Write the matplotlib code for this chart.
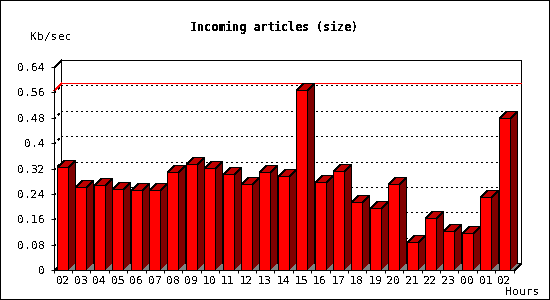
import numpy as np
import matplotlib
matplotlib.use("Agg")
import matplotlib.pyplot as plt
from matplotlib.patches import Polygon, Rectangle

hours = ["02", "03", "04", "05", "06", "07", "08", "09", "10", "11", "12", "13", "14",
         "15", "16", "17", "18", "19", "20", "21", "22", "23", "00", "01", "02"]
sizes = [0.325, 0.261, 0.268, 0.255, 0.251, 0.251, 0.309, 0.334, 0.322, 0.303, 0.272, 0.31, 0.297,
         0.566, 0.278, 0.313, 0.214, 0.195, 0.271, 0.0875, 0.163, 0.122, 0.116, 0.23, 0.479]
y_ticks = [0, 0.08, 0.16, 0.24, 0.32, 0.4, 0.48, 0.56, 0.64]
y_labels = ["0", "0.08", "0.16", "0.24", "0.32", "0.4", "0.48", "0.56", "0.64"]

plt.rcParams["font.family"] = "DejaVu Sans Mono"
plt.rcParams["text.antialiased"] = False
plt.rcParams["text.hinting"] = "force_autohint"
plt.rcParams["text.hinting_factor"] = 1

W, H = 550, 300
left, right, top, bottom = 53.5, 513.5, 67, 270
depth = 7
lw = 0.72  # one pixel

fig = plt.figure(figsize=(W / 100, H / 100), dpi=100)
ax = fig.add_axes([left / W, 1 - bottom / H, (right - left) / W, (bottom - top) / H])
ax.set_xlim(0, len(hours))
ax.set_ylim(0, 0.64)
ax.patch.set_visible(False)

dx = depth * len(hours) / (right - left)
dy = depth * 0.64 / (bottom - top)

for s in ["top", "right"]:
    ax.spines[s].set_visible(False)
for s in ["left", "bottom"]:
    ax.spines[s].set_linewidth(lw)
    ax.spines[s].set_antialiased(False)
    ax.spines[s].set_zorder(6)


def poly(pts, fc, ec="black", z=3):
    ax.add_patch(Polygon(pts, closed=True, fc=fc, ec=ec, lw=lw, aa=False, snap=True, clip_on=False, zorder=z))


def line(xs, ys, color="black", ls="-", z=2):
    ax.plot(xs, ys, color=color, lw=lw, ls=ls, aa=False, snap=True, clip_on=False, zorder=z)


n = len(hours)
# floor and back wall
poly([(0, 0), (n, 0), (n + dx, dy), (dx, dy)], "#808080", z=1)
poly([(dx, dy), (n + dx, dy), (n + dx, 0.64 + dy), (dx, 0.64 + dy)], "white", z=1)
line([0, dx], [0.64, 0.64 + dy])

for t in y_ticks[1:-1]:
    line([dx, n + dx], [t + dy, t + dy], ls=(0, (2, 3)))
    line([0, dx], [t, t + dy], ls=(0, (2, 3)))

# max line
peak = max(sizes)
line([0, dx], [peak, peak + dy], color="red", z=2.5)
line([dx, n + dx], [peak + dy, peak + dy], color="#ff0000", z=2.5)

# bars
x = np.arange(n) + 0.19
w = 0.6
ax.bar(x, sizes, w, align="edge", color="#ff0000", edgecolor="black", linewidth=lw, aa=False, zorder=4)
for xi, v in zip(x, sizes):
    poly([(xi, v), (xi + w, v), (xi + w + dx, v + dy), (xi + dx, v + dy)], "#c00000")
    poly([(xi + w, 0), (xi + w + dx, dy), (xi + w + dx, v + dy), (xi + w, v)], "#800000", ec="none")
    line([xi + w + dx, xi + w + dx, xi + w], [dy, v + dy, v], z=3)

ax.set_yticks(y_ticks)
ax.set_yticklabels(y_labels, fontsize=7.7)
ax.set_xticks(np.arange(n + 1))
ax.set_xticklabels([])
ax.set_xticks(np.arange(n) + 0.5, minor=True)
ax.set_xticklabels(hours, minor=True, fontsize=7.7)
ax.tick_params(axis="both", which="major", length=2.5, width=lw, pad=3.5)
ax.tick_params(axis="x", which="minor", length=0, pad=4)

fig.text(274 / W, 1 - 27 / H, "Incoming articles (size)", fontsize=8.4, fontweight="bold", ha="center", va="center")
fig.text(30 / W, 1 - 37 / H, "Kb/sec", fontsize=7.7, ha="left", va="center")
fig.text(505 / W, 1 - 292 / H, "Hours", fontsize=7.7, ha="left", va="center")

fig.add_artist(Rectangle((0, 0), 1, 1, transform=fig.transFigure, fill=False, ec="black", lw=1.44, aa=False))

plt.savefig("out.png", dpi=100)
